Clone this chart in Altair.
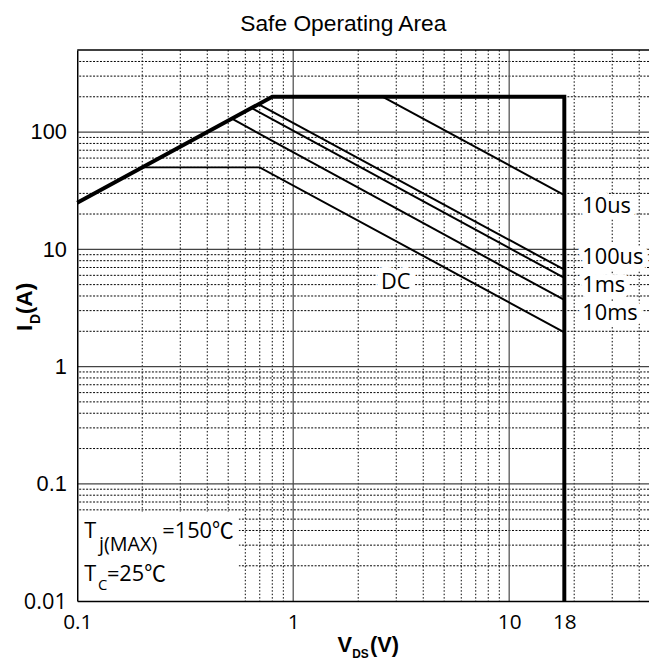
import altair as alt
import pandas as pd

# ---------------- data ----------------
env_v = [0.1, 0.8, 18, 18]
env_i = [25, 200, 200, 0.01]

us10_v = [2.6, 18]
us10_i = [200, 29]
us100_v = [0.69, 18]
us100_i = [173, 6.7]
ms1_v = [0.64, 18]
ms1_i = [161, 5.7]
ms10_v = [0.52, 18]
ms10_i = [130, 3.7]
dc_v = [0.2, 0.70, 18]
dc_i = [50, 50, 1.96]

label_text = ["10us", "100us", "1ms", "10ms", "DC"]
label_v = [21.8, 21.8, 21.8, 21.8, 2.55]
label_i = [23.3, 8.64, 4.97, 2.88, 5.27]

box_v = [0.1, 0.56]
box_i = [0.01, 0.058]

x_ticks = [0.1, 1, 10, 18]
y_ticks = [0.01, 0.1, 1, 10, 100]
x_major = [1, 10]
y_major = [0.1, 1, 10, 100]
x_minor = [0.2, 0.3, 0.4, 0.5, 0.6, 0.7, 0.8, 0.9,
           2, 3, 4, 5, 6, 7, 8, 9, 20, 30, 40]
y_minor = [0.02, 0.03, 0.04, 0.05, 0.06, 0.07, 0.08, 0.09,
           0.2, 0.3, 0.4, 0.5, 0.6, 0.7, 0.8, 0.9,
           2, 3, 4, 5, 6, 7, 8, 9,
           20, 30, 40, 50, 60, 70, 80, 90,
           200, 300, 400]

W, H = 578, 557
XDOM = [0.1, 44.4]
YDOM = [0.01, 500]

# ---------------- tables ----------------
rows = []
for name, vs, is_ in [("10us", us10_v, us10_i), ("100us", us100_v, us100_i),
                      ("1ms", ms1_v, ms1_i), ("10ms", ms10_v, ms10_i),
                      ("DC", dc_v, dc_i)]:
    for k, (a, b) in enumerate(zip(vs, is_)):
        rows.append({"s": name, "v": a, "i": b, "o": k})
curves = pd.DataFrame(rows)
env = pd.DataFrame({"v": env_v, "i": env_i, "o": list(range(len(env_v)))})
labels = pd.DataFrame({"t": label_text, "v": label_v, "i": label_i})
box = pd.DataFrame({"v": [box_v[0]], "v2": [box_v[1]], "i": [box_i[0]], "i2": [box_i[1]]})

xscale = alt.Scale(type="log", domain=XDOM, nice=False)
yscale = alt.Scale(type="log", domain=YDOM, nice=False)

xaxis = alt.Axis(values=x_ticks, labelExpr="'' + datum.value", labelFont="Open Sans",
                 labelFontSize=21, labelColor="black", ticks=False, tickSize=0,
                 grid=False, domainColor="black", domainWidth=1.5, labelPadding=11,
                 labelFlush=False, labelOverlap=False, zindex=1)
yaxis = alt.Axis(values=y_ticks, labelExpr="'' + datum.value",
                 labelFont={"condition": {"test": "datum.value == 0.01", "value": "Open Sans"},
                            "value": "Liberation Sans"},
                 labelFontSize=22, labelColor="black", ticks=False, tickSize=0,
                 grid=False, domainColor="black", domainWidth=1.5, labelPadding=11,
                 labelFlush=False, labelOverlap=False, zindex=1)

X = lambda f="v": alt.X(f + ":Q", scale=xscale, axis=xaxis, title=None)
Y = lambda f="i": alt.Y(f + ":Q", scale=yscale, axis=yaxis, title=None)

xminor = alt.Chart(pd.DataFrame({"v": x_minor})).mark_rule(
    color="black", strokeWidth=1, strokeDash=[1.5, 2]).encode(x=X())
yminor = alt.Chart(pd.DataFrame({"i": y_minor})).mark_rule(
    color="black", strokeWidth=1, strokeDash=[2, 1.5]).encode(y=Y())
xmaj = alt.Chart(pd.DataFrame({"v": x_major})).mark_rule(
    color="#555", strokeWidth=1.3).encode(x=X())
ymaj = alt.Chart(pd.DataFrame({"i": y_major})).mark_rule(
    color="#444", strokeWidth=1.3).encode(y=Y())

boxl = alt.Chart(box).mark_rect(color="white").encode(
    x=X(), x2="v2:Q", y=Y(), y2="i2:Q")

halo = alt.Chart(labels).mark_text(
    align="left", baseline="middle", font="Open Sans", fontSize=22,
    stroke="white", strokeWidth=12, strokeJoin="round", color="white").encode(
    x=X(), y=Y(), text="t:N")

lines = alt.Chart(curves).mark_line(color="black", strokeWidth=2, strokeCap="butt").encode(
    x=X(), y=Y(), detail="s:N", order="o:Q")
envl = alt.Chart(env).mark_line(color="black", strokeWidth=4, strokeCap="butt",
                                strokeJoin="miter").encode(x=X(), y=Y(), order="o:Q")

labl = alt.Chart(labels).mark_text(
    align="left", baseline="middle", font="Open Sans", fontSize=22, color="black").encode(
    x=X(), y=Y(), text="t:N")


def ptext(text, x, y, size, font, weight="normal", angle=0, align="left"):
    return alt.Chart(pd.DataFrame({"t": [text]})).mark_text(
        align=align, baseline="alphabetic", font=font, fontSize=size,
        fontWeight=weight, angle=angle, color="black").encode(
        x=alt.value(x), y=alt.value(y), text="t:N")


SANS = "Open Sans, Noto Sans CJK SC"
texts = [
    ptext("Safe Operating Area", 269, -19, 23, "Liberation Sans", align="center"),
    # y title
    ptext("I", -46, 284, 23, "Liberation Sans", "bold", 270),
    ptext("D", -38, 277, 14, "Liberation Sans", "bold", 270),
    ptext("(A)", -46, 267, 23, "Liberation Sans", "bold", 270),
    # x title
    ptext("V", 263, 608, 22, "Liberation Sans", "bold"),
    ptext("DS", 278, 615, 12, "Liberation Sans", "bold"),
    ptext("(V)", 296, 608, 22, "Liberation Sans", "bold"),
    # annotations
    ptext("T", 7, 493, 22, SANS),
    ptext("j(MAX)", 22, 506, 20, SANS),
    ptext("=150℃", 86, 493, 22, SANS),
    ptext("T", 7, 537, 22, SANS),
    ptext("C", 21, 546, 15, SANS),
    ptext("=25℃", 30, 537, 22, SANS),
]

top = alt.Chart(pd.DataFrame({"a": [0]})).mark_rule(color="black", strokeWidth=1.5).encode(
    x=alt.value(0), x2=alt.value(W), y=alt.value(0))

chart = alt.layer(xminor, yminor, xmaj, ymaj, boxl, halo, lines, envl, labl, top, *texts).properties(
    width=W, height=H,
    autosize=alt.AutoSizeParams(type="none"),
    padding={"left": 70, "top": 39, "right": 0, "bottom": 58},
    background="white",
).configure_view(strokeWidth=0)

chart.save("out.html", embed_options={"renderer": "svg", "actions": False})
